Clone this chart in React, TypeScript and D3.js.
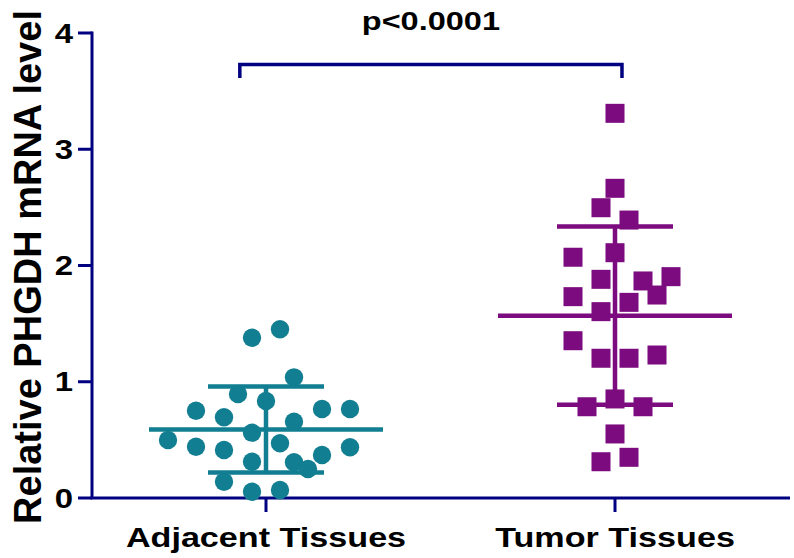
import React from 'react';
import * as d3 from 'd3';

// values (relative mRNA level) with the column slot each point sits in
const groups = ['Adjacent Tissues', 'Tumor Tissues'];
const adjacentValues = [1.379, 1.451, 1.038, 0.895, 0.834, 0.751, 0.694, 0.766, 0.766, 0.656, 0.499, 0.562, 0.441, 0.413, 0.471, 0.436, 0.370, 0.312, 0.307, 0.249, 0.140, 0.054, 0.069];
const adjacentSlots = [-1, 1, 2, -2, 0, -5, -3, 4, 6, 2, -7, -1, -5, -3, 1, 6, 4, -1, 2, 3, -3, -1, 1];
const tumorValues = [3.309, 2.664, 2.497, 2.391, 2.071, 2.110, 1.881, 1.867, 1.904, 1.732, 1.746, 1.683, 1.603, 1.353, 1.202, 1.202, 1.230, 0.852, 0.785, 0.785, 0.551, 0.312, 0.350];
const tumorSlots = [0, 0, -1, 1, -3, 0, -1, 2, 4, -3, 3, 1, -1, -3, -1, 1, 3, 0, -2, 2, 0, -1, 1];
const yTicks = [0, 1, 2, 3, 4];
const yLabel = 'Relative PHGDH mRNA level';
const pLabel = 'p<0.0001';

const W = 794;
const H = 558;
const navy = '#000080';
const teal = '#127e91';
const purple = '#7b0b7e';
const font = '"Liberation Sans", Arial, sans-serif';

const App = () => {
  const y = d3.scaleLinear().domain([0, 4]).range([498, 33]);
  const x = d3.scaleLinear().domain([0, 1]).range([266, 615]);
  const jitter = d3.scaleLinear().domain([0, 1]).range([0, 14]);
  const axisLeft = 92;
  const axisRight = 790;

  const series = [
    { name: groups[0], values: adjacentValues, slots: adjacentSlots, color: teal, shape: 'circle' },
    { name: groups[1], values: tumorValues, slots: tumorSlots, color: purple, shape: 'square' },
  ];

  const hx = 1.22; // horizontal stretch of the source figure's text

  return (
    <svg width={W} height={H} style={{ position: 'absolute', left: 0, top: 0, background: '#fff' }}>
      {/* axes */}
      <line x1={axisLeft} x2={axisLeft} y1={y(4) - 1.5} y2={y(0)} stroke={navy} strokeWidth={3} />
      <line x1={axisLeft - 1.5} x2={axisRight} y1={y(0)} y2={y(0)} stroke={navy} strokeWidth={3} />
      {yTicks.map(t => (
        <g key={t}>
          <line x1={axisLeft - 14} x2={axisLeft} y1={y(t)} y2={y(t)} stroke={navy} strokeWidth={3} />
          <text
            transform={`translate(73,${y(t)}) scale(${hx},1)`}
            dy="0.36em"
            textAnchor="end"
            fontFamily={font}
            fontWeight="bold"
            fontSize={27}
          >{t}</text>
        </g>
      ))}
      {groups.map((g, i) => (
        <g key={g}>
          <line x1={x(i)} x2={x(i)} y1={y(0)} y2={y(0) + 14} stroke={navy} strokeWidth={3} />
          <text
            transform={`translate(${x(i)},547) scale(${hx},1)`}
            textAnchor="middle"
            fontFamily={font}
            fontWeight="bold"
            fontSize={28}
          >{g}</text>
        </g>
      ))}
      <text
        transform={`translate(41,267) rotate(-90)`}
        textAnchor="middle"
        fontFamily={font}
        fontWeight="bold"
        fontSize={38}
      >{yLabel}</text>

      {/* significance bracket */}
      <path
        d={`M${x(-0.075)},${y(0) - 420} V${y(3.73)} H${x(1.02)} V${y(0) - 420}`}
        fill="none"
        stroke={navy}
        strokeWidth={3.5}
      />
      <text
        transform={`translate(${(x(-0.075) + x(1.02)) / 2},30) scale(1.25,1)`}
        textAnchor="middle"
        fontFamily={font}
        fontWeight="bold"
        fontSize={26}
      >{pLabel}</text>

      {/* points with mean ± SD */}
      {series.map((s, i) => {
        const cx = x(i);
        const mean = d3.mean(s.values) as number;
        const sd = d3.deviation(s.values) as number;
        return (
          <g key={s.name}>
            {s.values.map((v, j) => {
              const px = cx + jitter(s.slots[j]);
              const py = y(v);
              return s.shape === 'circle'
                ? <circle key={j} cx={px} cy={py} r={9.2} fill={s.color} />
                : <rect key={j} x={px - 9.5} y={py - 9.5} width={19} height={19} fill={s.color} />;
            })}
            <line x1={cx - 117} x2={cx + 117} y1={y(mean)} y2={y(mean)} stroke={s.color} strokeWidth={4.5} />
            <line x1={cx - 58} x2={cx + 58} y1={y(mean + sd)} y2={y(mean + sd)} stroke={s.color} strokeWidth={4.5} />
            <line x1={cx - 58} x2={cx + 58} y1={y(mean - sd)} y2={y(mean - sd)} stroke={s.color} strokeWidth={4.5} />
            <line x1={cx} x2={cx} y1={y(mean + sd)} y2={y(mean - sd)} stroke={s.color} strokeWidth={4.5} />
          </g>
        );
      })}
    </svg>
  );
};

export default App;
